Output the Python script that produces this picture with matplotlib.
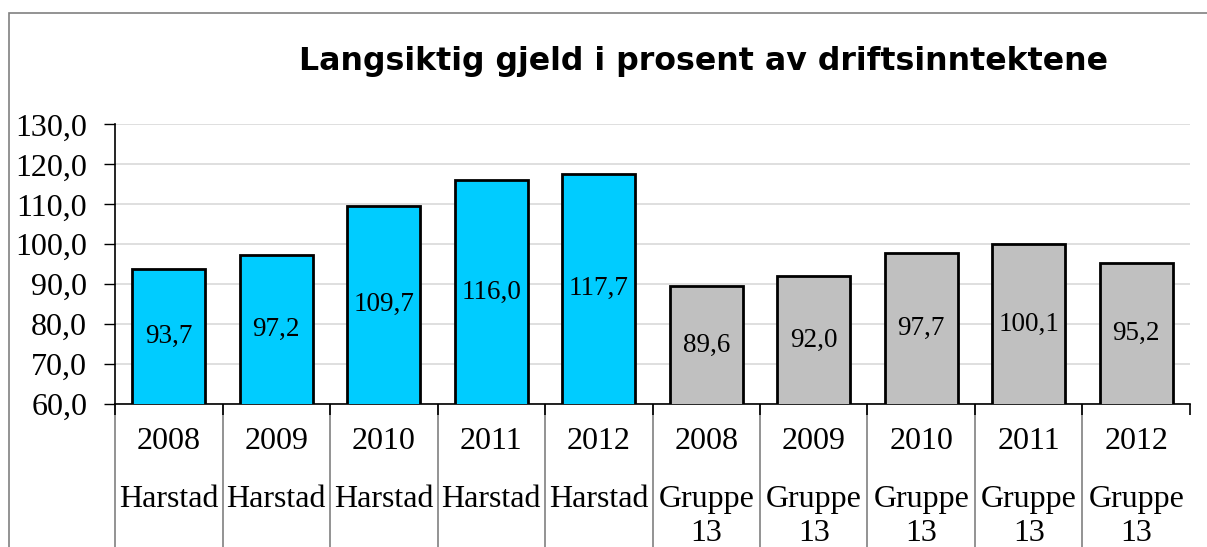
import matplotlib.pyplot as plt
from matplotlib.patches import Rectangle
from matplotlib.ticker import FuncFormatter

# data
years = ['2008', '2009', '2010', '2011', '2012', '2008', '2009', '2010', '2011', '2012']
group_line1 = ['Harstad'] * 5 + ['Gruppe'] * 5
group_line2 = [''] * 5 + ['13'] * 5
values = [93.7, 97.2, 109.7, 116.0, 117.7, 89.6, 92.0, 97.7, 100.1, 95.2]
colors = ['#00CCFF'] * 5 + ['#C0C0C0'] * 5

title = 'Langsiktig gjeld i prosent av driftsinntektene'

serif = 'Liberation Serif'
fs = 23

fig = plt.figure(figsize=(12.07, 5.47), dpi=100)
ax = fig.add_axes([0.0953, 0.2614, 0.8906, 0.511])

x = list(range(len(values)))
bars = ax.bar(x, values, width=0.68, color=colors, edgecolor='black', linewidth=2, zorder=3)
ax.bar_label(bars, labels=[f'{v:.1f}'.replace('.', ',') for v in values],
             label_type='center', fontsize=19.5, family=serif)

ax.set_xlim(-0.5, len(values) - 0.5)
ax.set_ylim(60, 130)
ax.set_yticks(range(60, 131, 10))
ax.yaxis.set_major_formatter(FuncFormatter(lambda v, p: f'{v:.1f}'.replace('.', ',')))
for lab in ax.get_yticklabels():
    lab.set_family(serif)
    lab.set_fontsize(fs)
ax.tick_params(axis='y', length=8, width=1, pad=12)
ax.grid(axis='y', color='#D9D9D9', linewidth=1.2, zorder=0)

for s in ['top', 'right']:
    ax.spines[s].set_visible(False)
ax.spines['left'].set_linewidth(1.2)
ax.spines['bottom'].set_linewidth(1.2)

# multi-level category axis
ax.set_xticks([i - 0.5 for i in range(len(values) + 1)])
ax.set_xticklabels([])
ax.tick_params(axis='x', length=8, width=1.2)
trans = ax.get_xaxis_transform()
for i in range(len(values)):
    ax.text(i, -0.135, years[i], transform=trans, ha='center', va='center',
            fontsize=fs, family=serif)
    ax.text(i, -0.343, group_line1[i], transform=trans, ha='center', va='center',
            fontsize=fs, family=serif)
    ax.text(i, -0.463, group_line2[i], transform=trans, ha='center', va='center',
            fontsize=fs, family=serif)
for i in range(len(values)):
    ax.plot([i - 0.5, i - 0.5], [0, -0.6], transform=trans, color='#808080',
            linewidth=1.2, clip_on=False, zorder=1)

fig.text(0.5825, 0.887, title, ha='center', va='center', fontsize=22.8,
         fontweight='bold', family='DejaVu Sans')

# chart frame
fig.patches.append(Rectangle((9 / 1207, -0.1), 1.2, 1 - 13 / 547 + 0.1,
                             transform=fig.transFigure, fill=False,
                             edgecolor='#808080', linewidth=1.2))

fig.savefig('out.png', dpi=100)
